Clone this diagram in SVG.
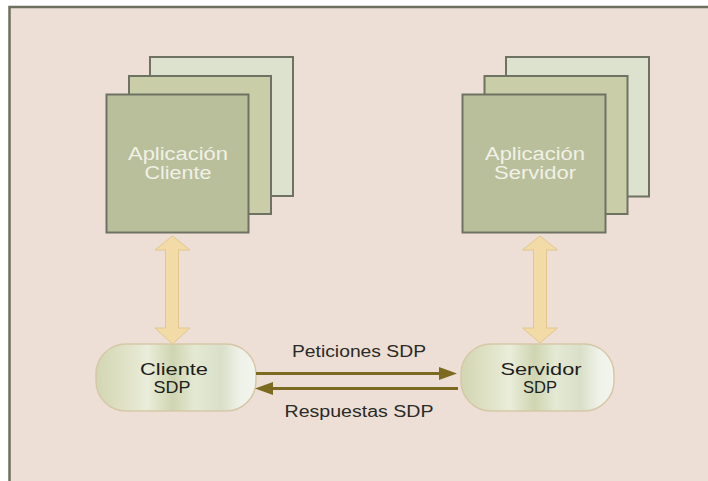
<svg xmlns="http://www.w3.org/2000/svg" width="708" height="481" viewBox="0 0 708 481">
  <defs>
    <style>
      .page { fill: #eddfd5; }
      .frame { fill: none; stroke: #6d705f; stroke-width: 2.5; }
      .sheet3 { fill: #dde2cf; stroke: #6e7262; stroke-width: 2; }
      .sheet2 { fill: #c9cea9; stroke: #6e7262; stroke-width: 2; }
      .sheet1 { fill: #b9bf9b; stroke: #6e7262; stroke-width: 2; }
      .apptext { font-family: "Liberation Sans", Arial, sans-serif; font-size: 18px; fill: #f1f1e6; text-anchor: middle; }
      .pill { fill: url(#pillGrad); stroke: #d6c7a8; stroke-width: 1.5; }
      .pilltext { font-family: "Liberation Sans", Arial, sans-serif; font-size: 17px; fill: #1e1e1a; text-anchor: middle; }
      .link { fill: #f2dba7; stroke: #e2c78e; stroke-width: 1; }
      .msg { stroke: #7b6a1f; stroke-width: 3; fill: none; }
      .msghead { fill: #7b6a1f; }
      .msgtext { font-family: "Liberation Sans", Arial, sans-serif; font-size: 16px; fill: #2a2a26; text-anchor: middle; }
    </style>
    <linearGradient id="pillGrad" x1="0" y1="0" x2="1" y2="0">
      <stop offset="0" stop-color="#d3d6b3"/>
      <stop offset="0.18" stop-color="#dfe2c5"/>
      <stop offset="0.32" stop-color="#eaedda"/>
      <stop offset="0.48" stop-color="#cfd5b1"/>
      <stop offset="0.62" stop-color="#e4e9d4"/>
      <stop offset="0.78" stop-color="#d9dfc8"/>
      <stop offset="0.9" stop-color="#eef2e8"/>
      <stop offset="1" stop-color="#f3f5ef"/>
    </linearGradient>
  </defs>

  <!-- background and frame lines -->
  <rect x="0" y="0" width="708" height="481" fill="#ffffff"/>
  <rect class="page" x="9" y="7" width="699" height="474"/>
  <path class="frame" d="M9.5 481 V7 H708"/>

  <!-- client application stack -->
  <g id="app-cliente">
    <rect class="sheet3" x="150" y="57" width="143" height="139"/>
    <rect class="sheet2" x="129" y="76" width="142" height="138"/>
    <rect class="sheet1" x="106.5" y="94.5" width="142" height="138"/>
    <text class="apptext" x="178" y="160" textLength="100" lengthAdjust="spacingAndGlyphs">Aplicación</text>
    <text class="apptext" x="178" y="179" textLength="67" lengthAdjust="spacingAndGlyphs">Cliente</text>
  </g>

  <!-- server application stack -->
  <g id="app-servidor">
    <rect class="sheet3" x="506" y="57" width="143" height="139.5"/>
    <rect class="sheet2" x="484.5" y="76" width="143" height="138"/>
    <rect class="sheet1" x="462.5" y="94.5" width="143" height="138"/>
    <text class="apptext" x="535" y="160" textLength="100" lengthAdjust="spacingAndGlyphs">Aplicación</text>
    <text class="apptext" x="535" y="179" textLength="82" lengthAdjust="spacingAndGlyphs">Servidor</text>
  </g>

  <!-- SDP client -->
  <g id="cliente-sdp">
    <rect class="pill" x="96" y="344" width="160" height="67" rx="30" ry="30"/>
    <text class="pilltext" x="174" y="375" textLength="68" lengthAdjust="spacingAndGlyphs">Cliente</text>
    <text class="pilltext" x="172" y="393" textLength="37" lengthAdjust="spacingAndGlyphs">SDP</text>
  </g>

  <!-- SDP server -->
  <g id="servidor-sdp">
    <rect class="pill" x="461" y="344" width="153" height="67" rx="30" ry="30"/>
    <text class="pilltext" x="541" y="375" textLength="81" lengthAdjust="spacingAndGlyphs">Servidor</text>
    <text class="pilltext" x="540" y="393" textLength="34" lengthAdjust="spacingAndGlyphs">SDP</text>
  </g>

  <!-- connectors -->
  <g id="connectors">
    <!-- application to SDP layer, two-way -->
    <path class="link" d="M172.5 236 L190 250 L178.5 250 L178.5 328 L190 328 L172.5 344 L155 328 L165.5 328 L165.5 250 L155 250 Z"/>
    <path class="link" d="M540 236 L557.5 250 L546.5 250 L546.5 328 L557.5 328 L540 343 L522.5 328 L533.5 328 L533.5 250 L522.5 250 Z"/>

    <!-- requests and responses -->
    <line class="msg" x1="256" y1="373.5" x2="441" y2="373.5"/>
    <path class="msghead" d="M457 373.5 L439 367 L439 380 Z"/>
    <line class="msg" x1="458" y1="388.5" x2="271" y2="388.5"/>
    <path class="msghead" d="M255 388.5 L273 382 L273 395 Z"/>

    <text class="msgtext" x="359" y="357" textLength="134" lengthAdjust="spacingAndGlyphs">Peticiones SDP</text>
    <text class="msgtext" x="359" y="417" textLength="149" lengthAdjust="spacingAndGlyphs">Respuestas SDP</text>
  </g>
</svg>
